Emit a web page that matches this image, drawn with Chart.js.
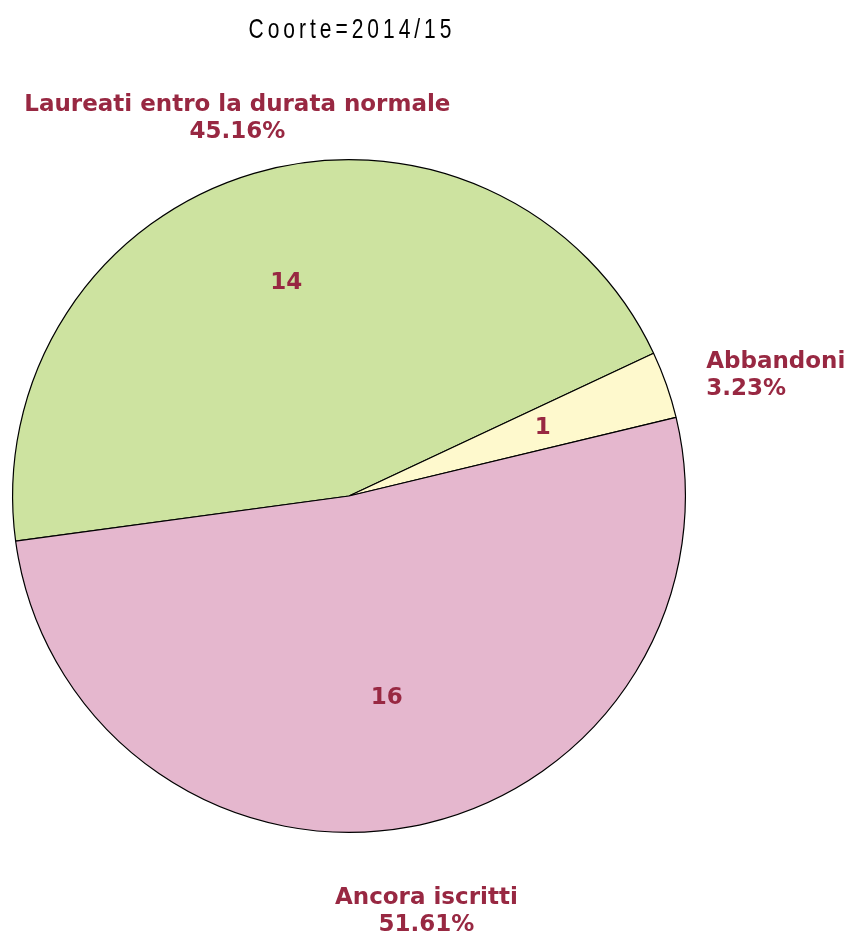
<!DOCTYPE html>
<html>
<head>
<meta charset="utf-8">
<script src="https://cdn.jsdelivr.net/npm/chart.js@4.4.0/dist/chart.umd.min.js"></script>
<style>
  html, body { margin: 0; padding: 0; background: #fff; }
  #wrap { width: 858px; height: 944px; position: relative; }
</style>
</head>
<body>
<div id="wrap"><canvas id="pie" width="858" height="944"></canvas></div>
<script>
const TITLE = 'Coorte=2014/15';
const CATEGORIES = ['Laureati entro la durata normale', 'Abbandoni', 'Ancora iscritti'];
const COUNTS = [14, 1, 16];
const PERCENTS = ['45.16%', '3.23%', '51.61%'];

const COLORS = {
  slices: ['#cde3a0', '#fef9cd', '#e5b7ce'],
  label: '#982842',
  border: '#000000'
};

const LABEL_FONT = 'bold 23px "DejaVu Sans", Verdana, sans-serif';

// labels drawn from the arc geometry Chart.js computes
const pieLabels = {
  id: 'pieLabels',
  afterDatasetsDraw(chart, args, opts) {
    const ctx = chart.ctx;
    const meta = chart.getDatasetMeta(0);
    ctx.save();
    ctx.fillStyle = COLORS.label;
    ctx.font = LABEL_FONT;
    meta.data.forEach((arc, i) => {
      const { x, y, startAngle, endAngle, outerRadius } = arc.getProps(['x', 'y', 'startAngle', 'endAngle', 'outerRadius'], true);
      const mid = (startAngle + endAngle) / 2;
      const cos = Math.cos(mid);
      const sin = Math.sin(mid);

      // count inside the slice
      const ri = outerRadius * opts.inner[i];
      ctx.textAlign = 'center';
      ctx.textBaseline = 'middle';
      ctx.fillText(String(COUNTS[i]), x + cos * ri, y + sin * ri);

      // name + percentage outside
      const ro = outerRadius * opts.outer[i];
      const ax = x + cos * ro;
      const ay = y + sin * ro + (opts.shiftY[i] || 0);
      ctx.textAlign = Math.abs(cos) > 0.6 ? (cos > 0 ? 'left' : 'right') : 'center';
      const lh = opts.lineHeight;
      ctx.fillText(CATEGORIES[i], ax, ay - lh / 2);
      ctx.fillText(PERCENTS[i], ax, ay + lh / 2);
    });
    ctx.restore();
  }
};

const pieTitle = {
  id: 'pieTitle',
  afterDraw(chart, args, opts) {
    const ctx = chart.ctx;
    ctx.save();
    ctx.fillStyle = '#000';
    ctx.translate(opts.x, opts.y);
    ctx.scale(opts.squeeze, 1);
    ctx.font = opts.font;
    ctx.letterSpacing = opts.spacing;
    ctx.textAlign = 'center';
    ctx.textBaseline = 'middle';
    ctx.fillText(TITLE, 0, 0);
    ctx.restore();
  }
};

new Chart(document.getElementById('pie'), {
  type: 'pie',
  data: {
    labels: CATEGORIES,
    datasets: [{
      data: COUNTS,
      backgroundColor: COLORS.slices,
      borderColor: COLORS.border,
      borderWidth: 1.2,
      borderAlign: 'center'
    }]
  },
  options: {
    responsive: false,
    animation: false,
    rotation: 262.3,
    layout: { padding: { top: 159, bottom: 111, left: 12, right: 172 } },
    plugins: {
      legend: { display: false },
      tooltip: { enabled: false },
      title: { display: false },
      pieLabels: { inner: [0.66, 0.61, 0.61], outer: [1.175, 1.125, 1.25], shiftY: [2, 5, 2], lineHeight: 27 },
      pieTitle: { x: 352, y: 30, squeeze: 0.75, font: '28px "Liberation Sans", Arial, sans-serif', spacing: '5.3px' }
    }
  },
  plugins: [pieLabels, pieTitle]
});
</script>
</body>
</html>
